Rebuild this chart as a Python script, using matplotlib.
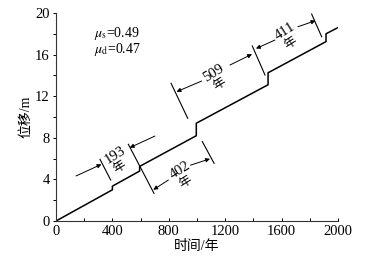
import matplotlib
matplotlib.use('Agg')
import matplotlib.pyplot as plt
from matplotlib.ticker import MultipleLocator

plt.rcParams['font.family'] = ['Liberation Serif', 'Noto Sans CJK SC']
plt.rcParams['mathtext.fontset'] = 'stix'

# displacement history (year, m): slow creep with sudden slips
years = [0, 400, 400, 593, 593, 995, 995, 1504, 1504, 1915, 1915, 2000]
slip = [0, 3.0, 3.35, 4.8, 5.25, 8.2, 9.4, 13.1, 14.25, 17.25, 18.0, 18.6]

# recurrence intervals between slips
intervals = ['193', '402', '509', '411']

x_ticks = [0, 400, 800, 1200, 1600, 2000]
y_ticks = [0, 4, 8, 12, 16, 20]

fig = plt.figure(figsize=(3.73, 2.58), dpi=100)
ax = fig.add_axes([56 / 373, 37 / 258, 282 / 373, 208 / 258])

ax.plot(years, slip, color='black', lw=1.1)

ax.set_xlim(0, 2000)
ax.set_ylim(0, 20)
ax.set_xticks(x_ticks)
ax.set_yticks(y_ticks)
ax.xaxis.set_minor_locator(MultipleLocator(200))
ax.yaxis.set_minor_locator(MultipleLocator(2))
ax.tick_params(axis='x', which='both', direction='in', length=2.5, width=0.7, labelsize=10.5, pad=3)
ax.tick_params(axis='y', which='both', direction='out', length=2.5, width=0.7, labelsize=10.5, pad=2)
for s in ['top', 'right']:
    ax.spines[s].set_visible(False)
for s in ['left', 'bottom']:
    ax.spines[s].set_linewidth(0.8)
    ax.spines[s].set_color('#333333')

ax.set_xlabel('时间/年', fontsize=10, labelpad=1)
ax.set_ylabel('位移/m', fontsize=10, labelpad=2)

ax.text(270, 17.65, r'$\mu_{\rm s}$=0.49', fontsize=10, va='baseline')
ax.text(270, 16.15, r'$\mu_{\rm d}$=0.47', fontsize=10, va='baseline')

# dimension lines marking each interval
tick_lines = [
    ((312, 5.93), (388, 3.94)),
    ((513, 7.38), (695, 2.66)),
    ((1038, 7.63), (1121, 5.55)),
    ((816, 13.24), (934, 9.88)),
    ((1392, 16.83), (1482, 14.04)),
    ((1813, 19.90), (1884, 17.72)),
]
arrows = [
    ((142, 4.33), (322, 5.45)),
    ((702, 8.17), (523, 7.05)),
    ((797, 3.94), (690, 3.0)),
    ((936, 5.29), (1092, 5.98)),
    ((1033, 13.46), (855, 12.43)),
    ((1234, 15.0), (1390, 16.04)),
    ((1553, 17.40), (1418, 16.58)),
    ((1716, 18.68), (1840, 19.26)),
]
label_pos = [(420, 6.3), (877, 4.92), (1116, 14.2), (1622, 18.2)]
nian_pos = [(448, 5.2), (920, 3.7), (1163, 13.15), (1660, 17.12)]

for (p0, p1) in tick_lines:
    ax.plot([p0[0], p1[0]], [p0[1], p1[1]], color='black', lw=0.8)

for (tail, head) in arrows:
    ax.annotate('', xy=head, xytext=tail,
                arrowprops=dict(arrowstyle='-|>', color='black', lw=0.7,
                                mutation_scale=6, shrinkA=0, shrinkB=0))

for lab, (x, y) in zip(intervals, label_pos):
    ax.text(x, y, lab, fontsize=10.5, rotation=32, ha='center', va='center',
            bbox=dict(facecolor='white', edgecolor='none', pad=0.3))
for (x, y) in nian_pos:
    ax.text(x, y, '年', fontsize=9, rotation=32, ha='center', va='center')

fig.savefig('out.png', dpi=100)
